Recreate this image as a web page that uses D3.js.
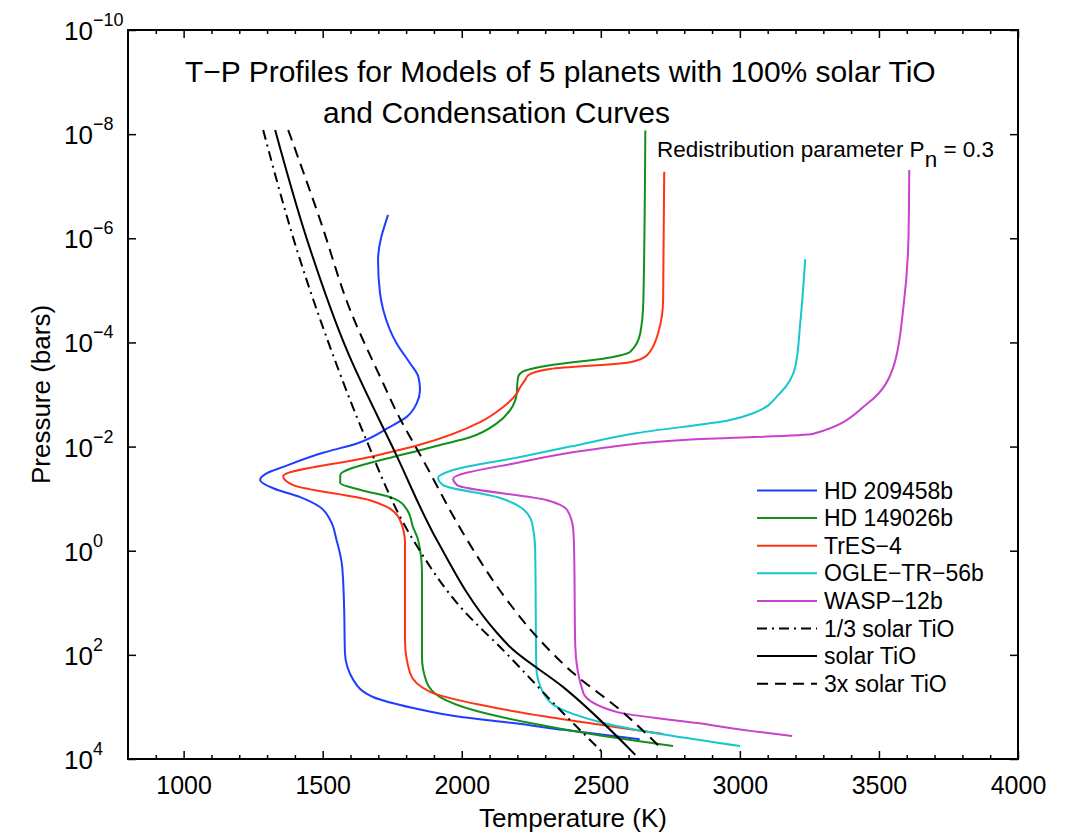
<!DOCTYPE html>
<html>
<head>
<meta charset="utf-8">
<script src="https://cdnjs.cloudflare.com/ajax/libs/d3/7.8.5/d3.min.js"></script>
<style>
body { margin: 0; background: #fff; }
svg { font-family: "Liberation Sans", Arial, Helvetica, sans-serif; }
</style>
</head>
<body>
<div id="chart"></div>
<script>
// temperature (K) and log10 pressure (bars)
var hd209458bT = [1735, 1699, 1706, 1718, 1766, 1814, 1844, 1850, 1838, 1802, 1742, 1623, 1501, 1358, 1300, 1275, 1322, 1419, 1490, 1527, 1550, 1570, 1577, 1580, 1610, 1681, 1825, 2005, 2185, 2365, 2640];
var hd209458bLogP = [-6.45, -5.58, -4.95, -4.62, -3.98, -3.6, -3.34, -3.09, -2.83, -2.57, -2.38, -2.06, -1.88, -1.61, -1.49, -1.36, -1.2, -1.03, -0.84, -0.59, -0.2, 0.3, 1.08, 1.96, 2.48, 2.81, 3.02, 3.2, 3.31, 3.44, 3.62];

var hd149026bT = [2660, 2653, 2642, 2606, 2523, 2329, 2216, 2203, 2199, 2198, 2174, 2127, 2030, 1922, 1850, 1753, 1563, 1563, 1634, 1753, 1804, 1825, 1843, 1857, 1857, 1875, 1922, 2041, 2246, 2487, 2760];
var hd149026bLogP = [-8.07, -4.81, -4.18, -3.82, -3.7, -3.57, -3.43, -3.34, -3.14, -3.03, -2.7, -2.45, -2.18, -2.03, -1.93, -1.8, -1.45, -1.3, -1.17, -1.01, -0.78, -0.45, -0.21, 0.43, 2.04, 2.54, 2.81, 3.06, 3.31, 3.54, 3.75];

var tres4T = [2728, 2724, 2706, 2667, 2606, 2318, 2239, 2228, 2210, 2199, 2149, 2066, 1845, 1670, 1358, 1394, 1670, 1731, 1778, 1796, 1796, 1814, 1886, 2066, 2307, 2545, 2724];
var tres4LogP = [-7.28, -4.81, -4.18, -3.76, -3.62, -3.49, -3.37, -3.28, -3.14, -3.03, -2.76, -2.47, -2.03, -1.8, -1.43, -1.26, -0.97, -0.84, -0.59, -0.15, 1.72, 2.35, 2.71, 2.96, 3.19, 3.38, 3.52];

var ogleT = [3235, 3217, 3199, 3145, 3048, 2965, 2631, 2390, 2210, 1969, 1915, 1933, 2127, 2210, 2253, 2264, 2268, 2293, 2365, 2545, 3001];
var ogleLogP = [-5.6, -4.37, -3.53, -3.03, -2.64, -2.51, -2.26, -2.0, -1.8, -1.55, -1.4, -1.26, -1.03, -0.84, -0.53, -0.01, 2.23, 2.73, 3.06, 3.35, 3.75];

var wasp12bT = [3609, 3606, 3588, 3552, 3462, 3261, 2811, 2451, 2210, 1969, 1983, 2307, 2379, 2401, 2404, 2408, 2437, 2559, 2847, 3037, 3188];
var wasp12bLogP = [-7.31, -5.97, -4.68, -3.53, -2.84, -2.24, -2.13, -1.93, -1.7, -1.38, -1.26, -0.97, -0.78, -0.4, -0.01, 1.81, 2.73, 3.1, 3.31, 3.46, 3.56];

// condensation curves
var thirdSolarT = [1286, 1419, 1537, 1645, 1825, 2005, 2149, 2365, 2508];
var thirdSolarLogP = [-8.08, -5.58, -3.76, -2.28, -0.21, 1.14, 1.91, 3.12, 3.88];

var solarT = [1329, 1444, 1587, 1762, 1910, 2127, 2174, 2365, 2624];
var solarLogP = [-8.08, -5.97, -3.85, -1.87, -0.21, 1.58, 1.85, 2.62, 3.92];

var triSolarT = [1376, 1491, 1599, 1717, 1768, 1861, 2019, 2163, 2271, 2401, 2570, 2724];
var triSolarLogP = [-8.08, -6.35, -4.62, -3.22, -2.64, -1.74, -0.21, 0.95, 1.66, 2.35, 3.06, 3.83];

var legendLabels = ["HD 209458b", "HD 149026b", "TrES\u22124", "OGLE\u2212TR\u221256b", "WASP\u221212b", "1/3 solar TiO", "solar TiO", "3x solar TiO"];
var xMajorTicks = [1000, 1500, 2000, 2500, 3000, 3500, 4000];
var yTickExponents = [-10, -8, -6, -4, -2, 0, 2, 4];

var series = [
    { t: hd209458bT, logP: hd209458bLogP, color: "#1f3dff", dash: null },
    { t: hd149026bT, logP: hd149026bLogP, color: "#13901a", dash: null },
    { t: tres4T, logP: tres4LogP, color: "#ff3414", dash: null },
    { t: ogleT, logP: ogleLogP, color: "#16c8cc", dash: null },
    { t: wasp12bT, logP: wasp12bLogP, color: "#c842cc", dash: null },
    { t: thirdSolarT, logP: thirdSolarLogP, color: "#000", dash: "10,5,2,5" },
    { t: solarT, logP: solarLogP, color: "#000", dash: null },
    { t: triSolarT, logP: triSolarLogP, color: "#000", dash: "11,7" }
];

var width = 1072, height = 834;
var plotLeft = 128, plotRight = 1018, plotTop = 30, plotBottom = 759;

var svg = d3.select("#chart").append("svg")
    .attr("width", width)
    .attr("height", height);

var x = d3.scaleLinear().domain([800, 4000]).range([plotLeft, plotRight]);
var y = d3.scaleLog().domain([1e-10, 1e4]).range([plotTop, plotBottom]);

var minorTicks = d3.range(900, 4000, 100).filter(function (d) { return d % 500 != 0; });
var yTickValues = yTickExponents.map(function (e) { return Math.pow(10, e); });

//ticks, all pointing inward
var addAxis = function (axis, tx, ty) {
    var g = svg.append("g").attr("transform", "translate(" + tx + "," + ty + ")").call(axis);
    g.select(".domain").remove();
    g.selectAll("line").attr("stroke-width", 1.5);
    return g;
}

addAxis(d3.axisBottom(x).tickValues(minorTicks).tickSize(-4).tickFormat(""), 0, plotBottom);
addAxis(d3.axisTop(x).tickValues(minorTicks).tickSize(-4).tickFormat(""), 0, plotTop);
addAxis(d3.axisTop(x).tickValues(xMajorTicks).tickSize(-8).tickFormat(""), 0, plotTop);
var xAxis = addAxis(d3.axisBottom(x).tickValues(xMajorTicks).tickSize(-8).tickPadding(17).tickFormat(d3.format("d")), 0, plotBottom);
xAxis.selectAll("text").attr("font-size", 25).attr("fill", "#000");
xAxis.attr("font-family", null).attr("font-size", null);

addAxis(d3.axisLeft(y).tickValues(yTickValues).tickSize(-8).tickFormat(""), plotLeft, 0);
addAxis(d3.axisRight(y).tickValues(yTickValues).tickSize(-8).tickFormat(""), plotRight, 0);

//y tick labels as powers of ten
yTickExponents.forEach(function (e) {
    var t = svg.append("text")
        .attr("x", 64)
        .attr("y", y(Math.pow(10, e)) + 10)
        .attr("font-size", 26)
        .text("10");
    t.append("tspan")
        .attr("dy", -14)
        .attr("font-size", 18)
        .text(e < 0 ? "\u2212" + (-e) : e);
});

//frame
svg.append("rect")
    .attr("x", plotLeft).attr("y", plotTop)
    .attr("width", plotRight - plotLeft).attr("height", plotBottom - plotTop)
    .attr("fill", "none").attr("stroke", "#000").attr("stroke-width", 2);

//profiles
var line = d3.line()
    .x(function (d) { return x(d[0]); })
    .y(function (d) { return y(Math.pow(10, d[1])); })
    .curve(d3.curveMonotoneY);

var curveGroup = svg.append("g").attr("class", "curveGroup");
series.forEach(function (s) {
    var pts = s.t.map(function (t, i) { return [t, s.logP[i]]; });
    curveGroup.append("path")
        .attr("d", line(pts))
        .attr("fill", "none")
        .attr("stroke", s.color)
        .attr("stroke-width", 2)
        .attr("stroke-dasharray", s.dash);
});

//legend
var legendGroup = svg.append("g").attr("class", "legendGroup");
legendLabels.forEach(function (label, i) {
    var ly = 490.5 + i * 27.6;
    legendGroup.append("line")
        .attr("x1", 757).attr("x2", 817)
        .attr("y1", ly).attr("y2", ly)
        .attr("stroke", series[i].color)
        .attr("stroke-width", 2)
        .attr("stroke-dasharray", series[i].dash);
    legendGroup.append("text")
        .attr("x", 824)
        .attr("y", ly + 8)
        .attr("font-size", 23)
        .text(label);
});

//titles and labels
svg.append("text").attr("x", 185).attr("y", 82).attr("font-size", 30)
    .text("T\u2212P Profiles for Models of 5 planets with 100% solar TiO");
svg.append("text").attr("x", 323).attr("y", 123).attr("font-size", 30)
    .text("and Condensation Curves");

var note = svg.append("text").attr("x", 657).attr("y", 157).attr("font-size", 22.5)
    .text("Redistribution parameter P");
note.append("tspan").attr("dy", 10).text("n");
note.append("tspan").attr("dy", -10).text(" = 0.3");

svg.append("text")
    .attr("x", (plotLeft + plotRight) / 2).attr("y", 827)
    .attr("text-anchor", "middle").attr("font-size", 26)
    .text("Temperature (K)");

svg.append("text")
    .attr("transform", "translate(50," + (plotTop + plotBottom) / 2 + ") rotate(-90)")
    .attr("text-anchor", "middle").attr("font-size", 26)
    .text("Pressure (bars)");
</script>
</body>
</html>
